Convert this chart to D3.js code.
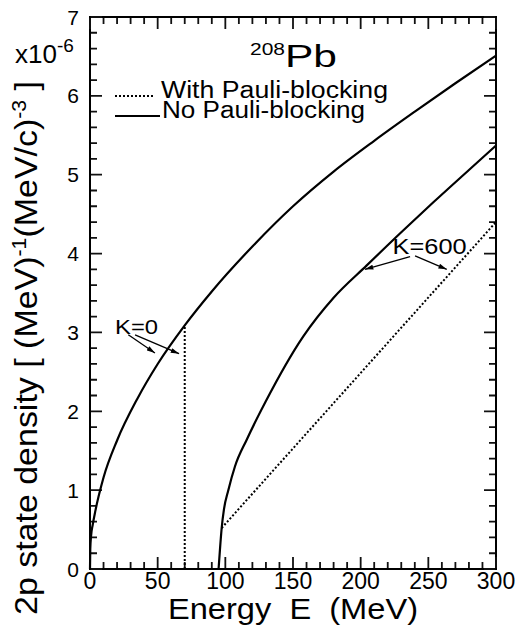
<!DOCTYPE html>
<html>
<head>
<meta charset="utf-8">
<script src="https://cdn.jsdelivr.net/npm/d3@7"></script>
<style>
  body { margin: 0; background: #fff; }
  text { font-family: "Liberation Sans", Arial, Helvetica, sans-serif; fill: #000; }
</style>
</head>
<body>
<svg id="graphic" width="519" height="629"></svg>
<script>
// values (density in units of 1e-6)
const energyK0 = [0, 0.2, 0.8, 2, 4, 10, 20, 35, 50, 70, 90, 120, 150, 180, 210, 240, 270, 300];
const densityK0 = [0, 0.25, 0.42, 0.56, 0.74, 1.16, 1.63, 2.16, 2.6, 3.09, 3.52, 4.09, 4.6, 5.04, 5.43, 5.8, 6.16, 6.51];

const energyK600 = [95, 96, 97.3, 99, 102.2, 107.1, 115.8, 130, 157.6, 180, 204.5, 230, 253.7, 280, 300];
const densityK600 = [0, 0.24, 0.52, 0.76, 1.0, 1.3, 1.64, 2.13, 2.95, 3.44, 3.85, 4.27, 4.65, 5.06, 5.37];

const energyPauliK0 = [70, 70];
const densityPauliK0 = [0, 3.09];
const energyPauliK600 = [97.3, 300];
const densityPauliK600 = [0.52, 4.40];

const xTicks = [0, 50, 100, 150, 200, 250, 300];
const yTicks = [0, 1, 2, 3, 4, 5, 6, 7];

// annotation arrows [E0, v0, E1, v1]
const arrowsK0 = [[28.3, 2.97, 48.0, 2.74], [33.3, 2.97, 65.8, 2.73]];
const arrowsK600 = [[236.5, 3.96, 203.2, 3.80], [240.2, 3.97, 263.6, 3.80]];

const plotLeft = 90, plotRight = 496, plotTop = 17, plotBottom = 569;

let svg = d3.select('#graphic');

let xScale = d3.scaleLinear().domain([0, 300]).range([plotLeft, plotRight]);
let yScale = d3.scaleLinear().domain([0, 7]).range([plotBottom, plotTop]);

svg.append('defs').append('marker')
    .attr('id', 'arr')
    .attr('viewBox', '0 0 10 6')
    .attr('refX', 10).attr('refY', 3)
    .attr('markerUnits', 'userSpaceOnUse')
    .attr('markerWidth', 9).attr('markerHeight', 5)
    .attr('orient', 'auto')
    .append('path').attr('d', 'M0,0L10,3L0,6Z').attr('fill', '#000');

function toPoints(xs, ys) {
    return xs.map((e, i) => [e, ys[i]]);
}

let smooth = d3.line()
    .x(d => xScale(d[0]))
    .y(d => yScale(d[1]))
    .curve(d3.curveMonotoneX);

let straight = d3.line()
    .x(d => xScale(d[0]))
    .y(d => yScale(d[1]));

// frame first, ticks inside it
svg.append('rect')
    .attr('x', plotLeft).attr('y', plotTop)
    .attr('width', plotRight - plotLeft).attr('height', plotBottom - plotTop)
    .attr('fill', 'none').attr('stroke', '#000').attr('stroke-width', 2);

// ticks pointing inward on all four sides
function isMajor(v, majors) {
    return majors.some(m => Math.abs(m - v) < 1e-6);
}
let xMinor = d3.range(0, 31).map(i => i * 10);
let yMinor = d3.range(0, 36).map(i => i / 5);

let tk = d3.path();
xMinor.forEach(e => {
    let len = isMajor(e, xTicks) ? 11 : 6;
    let x = xScale(e);
    tk.moveTo(x, plotBottom - 1); tk.lineTo(x, plotBottom - 1 - len);
    tk.moveTo(x, plotTop + 1); tk.lineTo(x, plotTop + 1 + len);
});
yMinor.forEach(v => {
    let len = isMajor(v, yTicks) ? 11 : 6;
    let y = yScale(v);
    tk.moveTo(plotLeft + 1, y); tk.lineTo(plotLeft + 1 + len, y);
    tk.moveTo(plotRight - 1, y); tk.lineTo(plotRight - 1 - len, y);
});
svg.append('path')
    .attr('d', tk.toString())
    .attr('fill', 'none')
    .attr('stroke', '#111')
    .attr('stroke-width', 1.8);

// dotted (with Pauli-blocking)
svg.append('path')
    .attr('d', straight(toPoints(energyPauliK0, densityPauliK0)))
    .attr('fill', 'none').attr('stroke', '#000')
    .attr('stroke-width', 2).attr('stroke-dasharray', '2,2');

svg.append('path')
    .attr('d', straight(toPoints(energyPauliK600, densityPauliK600)))
    .attr('fill', 'none').attr('stroke', '#000')
    .attr('stroke-width', 2).attr('stroke-dasharray', '2,2');

// solid (no Pauli-blocking)
svg.append('path')
    .attr('d', smooth(toPoints(energyK0, densityK0)))
    .attr('fill', 'none').attr('stroke', '#000').attr('stroke-width', 2.2);

svg.append('path')
    .attr('d', smooth(toPoints(energyK600, densityK600)))
    .attr('fill', 'none').attr('stroke', '#000').attr('stroke-width', 2.2);

svg.selectAll('.xlab').data(xTicks).enter().append('text')
    .attr('x', d => xScale(d)).attr('y', 589)
    .attr('text-anchor', 'middle').attr('font-size', 23)
    .text(d => d);

svg.selectAll('.ylab').data(yTicks).enter().append('text')
    .attr('x', 79).attr('y', d => yScale(d) + 7.5)
    .attr('text-anchor', 'end').attr('font-size', 21)
    .text(d => d);

// exponent
let ex = svg.append('text').attr('x', 15).attr('y', 63).attr('font-size', 26);
ex.append('tspan').text('x10');
ex.append('tspan').attr('font-size', 19).attr('dy', -11).text('-6');

// y title
let yt = svg.append('text')
    .attr('transform', 'translate(37,348) rotate(-90)')
    .attr('text-anchor', 'middle')
    .attr('font-size', 32)
    .attr('textLength', 534)
    .attr('lengthAdjust', 'spacingAndGlyphs');
yt.append('tspan').text('2p state density [ (MeV)');
yt.append('tspan').attr('font-size', 20).attr('dy', -11).text('-1');
yt.append('tspan').attr('dy', 11).text('(MeV/c)');
yt.append('tspan').attr('font-size', 20).attr('dy', -11).text('-3');
yt.append('tspan').attr('dy', 11).text(' ]');

// x title
svg.append('text')
    .attr('x', 168).attr('y', 619)
    .attr('font-size', 29)
    .attr('textLength', 250)
    .attr('lengthAdjust', 'spacingAndGlyphs')
    .attr('xml:space', 'preserve')
    .text('Energy  E  (MeV)');

// nucleus label
svg.append('text').attr('x', 250).attr('y', 55).attr('font-size', 17)
    .attr('textLength', 35).attr('lengthAdjust', 'spacingAndGlyphs').text('208');
svg.append('text').attr('x', 285).attr('y', 67).attr('font-size', 31)
    .attr('textLength', 52).attr('lengthAdjust', 'spacingAndGlyphs').text('Pb');

// legend
svg.append('line').attr('x1', 115).attr('x2', 154).attr('y1', 96).attr('y2', 96)
    .attr('stroke', '#000').attr('stroke-width', 2).attr('stroke-dasharray', '2,2');
svg.append('text').attr('x', 161).attr('y', 98).attr('font-size', 23)
    .attr('textLength', 227).attr('lengthAdjust', 'spacingAndGlyphs').text('With Pauli-blocking');
svg.append('line').attr('x1', 115).attr('x2', 160).attr('y1', 116).attr('y2', 116)
    .attr('stroke', '#000').attr('stroke-width', 2);
svg.append('text').attr('x', 162).attr('y', 118).attr('font-size', 23)
    .attr('textLength', 203).attr('lengthAdjust', 'spacingAndGlyphs').text('No Pauli-blocking');

// K annotations
svg.append('text').attr('x', xScale(18.5)).attr('y', yScale(2.98)).attr('font-size', 20)
    .attr('textLength', 43).attr('lengthAdjust', 'spacingAndGlyphs').text('K=0');
svg.append('text').attr('x', xScale(223.6)).attr('y', yScale(3.99)).attr('font-size', 22)
    .attr('textLength', 74).attr('lengthAdjust', 'spacingAndGlyphs').text('K=600');

svg.selectAll('.arrow')
    .data(arrowsK0.concat(arrowsK600))
    .enter()
    .append('line')
    .classed('arrow', true)
    .attr('x1', d => xScale(d[0])).attr('y1', d => yScale(d[1]))
    .attr('x2', d => xScale(d[2])).attr('y2', d => yScale(d[3]))
    .attr('stroke', '#000').attr('stroke-width', 1.3)
    .attr('marker-end', 'url(#arr)');
</script>
</body>
</html>
